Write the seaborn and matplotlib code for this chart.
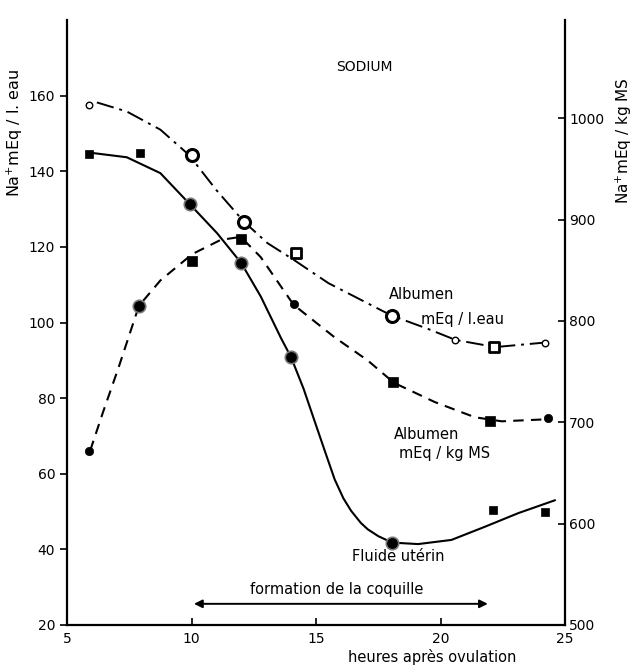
import matplotlib
matplotlib.use("Agg")
import matplotlib.pyplot as plt
import seaborn as sns
import pandas as pd

# ---------------- data ----------------
# Albumen, mEq / l. eau (left axis) - measured points
alb_l_x = [5.9, 10.0, 12.1, 14.2, 18.05, 20.6, 22.15, 24.2]
alb_l_y = [157.6, 144.3, 126.7, 118.5, 101.8, 95.4, 93.5, 94.7]
alb_l_m = ["open_small", "ring", "ring", "open_sq", "ring", "open_small", "open_sq", "open_small"]
# hand-drawn fitted curve
alb_l_cx = [6.2, 7.4, 8.75, 9.9, 11.0, 12.1, 13.05, 14.1, 15.5, 17.6, 18.05, 19.5, 20.6, 22.2, 24.2]
alb_l_cy = [158.2, 155.8, 151.0, 144.3, 135.0, 126.7, 121.0, 116.6, 110.4, 103.3, 101.8, 98.3, 95.4, 93.5, 94.7]

# Fluide utérin (left axis)
flu_x = [5.9, 7.95, 9.95, 12.0, 14.0, 18.05, 22.1, 24.2]
flu_y = [144.6, 144.8, 131.3, 115.7, 90.8, 41.6, 50.4, 49.8]
flu_m = ["sq_small", "sq_small", "dot_ring", "dot_ring", "dot_ring", "dot_ring", "sq_small", "sq_small"]
flu_cx = [6.06, 7.4, 8.75, 9.93, 11.03, 12.0, 12.78, 13.6, 14.0, 14.5, 14.93, 15.34, 15.75, 16.1,
          16.41, 16.8, 17.08, 17.5, 18.05, 19.1, 20.44, 21.79, 23.13, 24.6]
flu_cy = [144.8, 143.7, 139.5, 131.3, 123.6, 115.7, 106.9, 95.8, 90.8, 82.5, 74.2, 66.3, 58.5, 53.5,
          50.2, 47.0, 45.3, 43.5, 41.8, 41.4, 42.5, 46.0, 49.6, 53.0]

# Albumen, mEq / kg MS (right axis)
alb_ms_x = [5.9, 7.9, 10.0, 12.0, 14.1, 18.1, 22.0, 24.3]
alb_ms_y = [672, 815, 859, 881, 817, 740, 701, 704]
alb_ms_m = ["dot", "dot_ring", "sq_big", "sq_big", "dot", "sq_big", "sq_big", "dot"]
alb_ms_cx = [5.93, 6.46, 7.07, 7.89, 8.75, 10.03, 11.17, 11.98, 12.78, 14.1, 15.74, 17.08,
             18.13, 19.77, 21.38, 22.46, 24.27]
alb_ms_cy = [672, 711, 754, 815, 840, 866, 880, 883, 863, 816, 784, 761, 739, 720, 705, 701, 703]

left_ticks = [20, 40, 60, 80, 100, 120, 140, 160]
right_ticks = [500, 600, 700, 800, 900, 1000]
x_ticks = [5, 10, 15, 20, 25]

# ---------------- style ----------------
sns.set_style("ticks")
plt.rcParams["font.family"] = ["DejaVu Sans"]
plt.rcParams["font.size"] = 10
for k in ("text.color", "axes.labelcolor", "xtick.color", "ytick.color", "axes.edgecolor"):
    plt.rcParams[k] = "black"

marker_styles = {
    "open_small": dict(marker="o", s=22, facecolor="white", edgecolor="black", linewidth=1.0),
    "ring": dict(marker="o", s=75, facecolor="white", edgecolor="black", linewidth=2.2),
    "open_sq": dict(marker="s", s=50, facecolor="white", edgecolor="black", linewidth=2.0),
    "sq_small": dict(marker="s", s=28, facecolor="black", edgecolor="black", linewidth=0.5),
    "sq_big": dict(marker="s", s=60, facecolor="black", edgecolor="black", linewidth=0.5),
    "dot": dict(marker="o", s=36, facecolor="black", edgecolor="black", linewidth=0.5),
    "dot_ring": dict(marker="o", s=80, facecolor="black", edgecolor="#777777", linewidth=1.2),
}

fig = plt.figure(figsize=(6.35, 6.68), dpi=100)
ax = fig.add_axes([67 / 635, 43 / 668, 498 / 635, 605 / 668])
ax2 = ax.twinx()

# ---------------- curves ----------------
df_l = pd.DataFrame({"x": alb_l_cx, "y": alb_l_cy})
sns.lineplot(data=df_l, x="x", y="y", ax=ax, color="black", lw=1.4, sort=False, estimator=None)
ax.lines[-1].set_dashes([9, 3, 1.5, 3])

df_f = pd.DataFrame({"x": flu_cx, "y": flu_cy})
sns.lineplot(data=df_f, x="x", y="y", ax=ax, color="black", lw=1.5, sort=False, estimator=None)

df_ms = pd.DataFrame({"x": alb_ms_cx, "y": alb_ms_cy})
sns.lineplot(data=df_ms, x="x", y="y", ax=ax2, color="black", lw=1.5, sort=False, estimator=None)
ax2.lines[-1].set_dashes([5, 3.5])

# ---------------- points ----------------
def draw_points(axis, xs, ys, ms):
    df = pd.DataFrame({"x": xs, "y": ys, "m": ms})
    for kind, sub in df.groupby("m"):
        st = marker_styles[kind]
        sns.scatterplot(data=sub, x="x", y="y", ax=axis, marker=st["marker"], s=st["s"],
                        facecolor=st["facecolor"], edgecolor=st["edgecolor"],
                        linewidth=st["linewidth"], zorder=5, legend=False)

draw_points(ax, alb_l_x, alb_l_y, alb_l_m)
draw_points(ax, flu_x, flu_y, flu_m)
draw_points(ax2, alb_ms_x, alb_ms_y, alb_ms_m)

# ---------------- axes ----------------
ax.set_xlim(5, 25)
ax.set_ylim(20, 180)
ax2.set_ylim(500, 1097)
ax.set_xticks(x_ticks)
ax.set_xticklabels([str(v) for v in x_ticks])
ax.set_yticks(left_ticks)
ax.set_yticklabels([str(v) for v in left_ticks])
ax2.set_yticks(right_ticks)
ax2.set_yticklabels([str(v) for v in right_ticks])

for a in (ax, ax2):
    a.spines["top"].set_visible(False)
    for s in a.spines.values():
        s.set_linewidth(1.6)
        s.set_color("black")
ax.spines["right"].set_visible(False)
ax2.spines["left"].set_visible(False)
ax2.spines["bottom"].set_visible(False)

ax.tick_params(axis="x", direction="in", length=5, width=1.2, labelsize=10, pad=5)
ax.tick_params(axis="y", direction="out", length=5, width=1.2, labelsize=10)
ax2.tick_params(axis="y", direction="in", length=5, width=1.2, labelsize=10, pad=3)

ax.set_xlabel("heures après ovulation", fontsize=10.5)
ax.xaxis.set_label_coords(0.733, -0.040)
ax.set_ylabel("Na$^{+}$mEq / l. eau", fontsize=11.5)
ax.yaxis.set_label_coords(-0.084, 0.813)
ax2.set_ylabel("Na$^{+}$mEq / kg MS", fontsize=11, rotation=90)
ax2.yaxis.set_label_coords(1.098, 0.80)

# ---------------- annotations ----------------
ax.text(16.95, 167.7, "SODIUM", ha="center", va="center", fontsize=10)
ax.text(19.25, 107.3, "Albumen", ha="center", va="center", fontsize=10.5)
ax.text(20.9, 100.9, "mEq / l.eau", ha="center", va="center", fontsize=10.5)
ax.text(19.45, 70.3, "Albumen", ha="center", va="center", fontsize=10.5)
ax.text(20.15, 65.4, "mEq / kg MS", ha="center", va="center", fontsize=10.5)
ax.text(18.3, 38.1, "Fluide utérin", ha="center", va="center", fontsize=10.5)
ax.text(15.85, 29.4, "formation de la coquille", ha="center", va="center", fontsize=10.5)
ax.annotate("", xy=(10.1, 25.6), xytext=(21.9, 25.6),
            arrowprops=dict(arrowstyle="<|-|>", color="black", lw=1.4,
                            mutation_scale=12, shrinkA=0, shrinkB=0))

fig.savefig("out.png", dpi=100)
